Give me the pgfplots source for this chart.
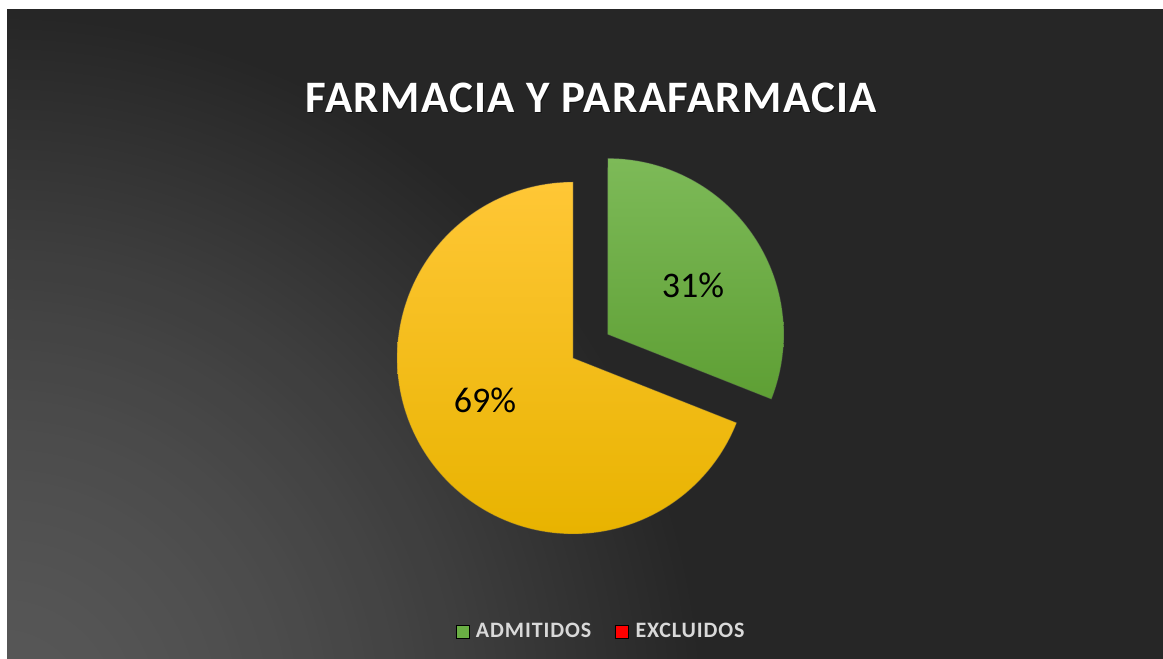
\documentclass[border=0pt]{standalone}
\usepackage{pgfplots}
\pgfplotsset{compat=1.18}
\usepackage{pgfplotstable}
\usepackage{fontspec}
\setmainfont{Carlito}
\newfontfamily\titlefont[LetterSpace=3]{Carlito}
\newfontfamily\legfont[LetterSpace=4]{Carlito}
\definecolor{bg}{HTML}{262626}
\definecolor{gTop}{HTML}{7DBA58}
\definecolor{gBot}{HTML}{5E9F34}
\definecolor{yTop}{HTML}{FFC736}
\definecolor{yMid}{HTML}{FFC800}
\definecolor{yBot}{HTML}{E8B300}
\definecolor{legGreen}{HTML}{6AAF44}
\definecolor{legText}{HTML}{D9D9D9}
\pgfplotstableread{
label value
ADMITIDOS 31
EXCLUIDOS 69
}\piedata
\pgfplotstablegetelem{0}{value}\of\piedata \let\vA\pgfplotsretval
\pgfplotstablegetelem{1}{value}\of\piedata \let\vB\pgfplotsretval
\pgfmathsetmacro\angA{360*\vA/(\vA+\vB)}
\pgfmathsetmacro\aEnd{90-\angA}
\pgfmathsetmacro\aMid{90-\angA/2}
\pgfmathsetmacro\cx{573}
\pgfmathsetmacro\cy{301}
\pgfmathsetmacro\R{176}
\pgfmathsetmacro\gx{\cx+42*cos(\aMid)}
\pgfmathsetmacro\gy{\cy+42*sin(\aMid)}
\begin{document}
\begin{tikzpicture}
\useasboundingbox (0,0) rectangle (1163pt,659pt);
\fill[white] (0,0) rectangle (1163pt,659pt);
\fill[bg] (7pt,0) rectangle (1163pt,650pt);
\begin{scope}
\clip (7pt,0) rectangle (1163pt,650pt);
\foreach \r in {700,690,...,10} {
  \pgfmathtruncatemacro\gl{38+50*(1-(\r/710)^1.6)}
  \definecolor{tmpc}{RGB}{\gl,\gl,\gl}
  \fill[tmpc] (0pt,-60pt) circle (\r pt);
}
\end{scope}
\begin{axis}[at={(0,0)}, anchor=south west, scale only axis,
  width=1163pt, height=659pt, xmin=0, xmax=1163, ymin=0, ymax=659,
  hide axis, clip=false,
  legend columns=2,
  legend style={at={(0.5168,0.042)}, anchor=center, draw=none, fill=none,
    text=legText, font=\legfont\bfseries\fontsize{22}{26}\selectfont,
    /tikz/every even column/.append style={column sep=22pt}},
  legend image code/.code={\fill[#1] (0pt,-6.5pt) rectangle (13pt,6.5pt); \path (18pt,0pt);},
]
\addplot[forget plot, draw=black!70, draw opacity=0.35, line width=0.8pt,
  top color=yTop, middle color=yMid, bottom color=yBot,
  domain=-270:\aEnd, samples=240, variable=\t]
  ({\cx+\R*cos(\t)},{\cy+\R*sin(\t)}) -- (axis cs:\cx,\cy) -- cycle;
\addplot[forget plot, draw=black!70, draw opacity=0.35, line width=0.8pt,
  top color=gTop, bottom color=gBot,
  domain=\aEnd:90, samples=120, variable=\t]
  ({\gx+\R*cos(\t)},{\gy+\R*sin(\t)}) -- (axis cs:\gx,\gy) -- cycle;
\addlegendimage{fill=legGreen}
\addlegendentry{ADMITIDOS}
\addlegendimage{fill=red}
\addlegendentry{EXCLUIDOS}
\node[text=black] at (axis cs:693,374) {\fontsize{36}{40}\selectfont \vA\%};
\node[text=black] at (axis cs:485,259) {\fontsize{36}{40}\selectfont \vB\%};
\node[text=black, opacity=0.5] at (axis cs:592.5,560) {\titlefont\bfseries\fontsize{45}{54}\selectfont FARMACIA Y PARAFARMACIA};
\node[text=white] at (axis cs:591.5,561.5) {\titlefont\bfseries\fontsize{45}{54}\selectfont FARMACIA Y PARAFARMACIA};
\end{axis}
\end{tikzpicture}
\end{document}
